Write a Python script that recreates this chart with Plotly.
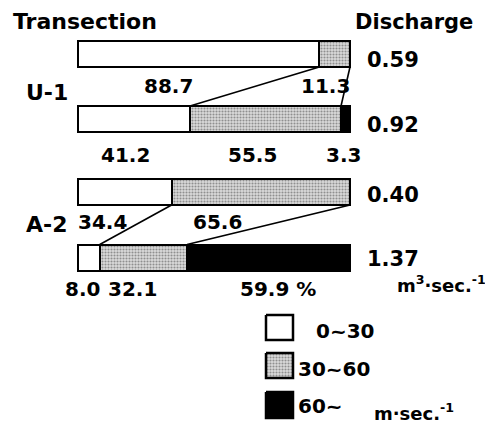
import plotly.graph_objects as go

# ---------------- data ----------------
transects = ["U-1", "A-2"]
classes = ["0~30", "30~60", "60~"]
# percentage of each velocity class, upper bar / lower bar per transection
u1_upper = [88.7, 11.3, 0.0]
u1_lower = [41.2, 55.5, 3.3]
a2_upper = [34.4, 65.6, 0.0]
a2_lower = [8.0, 32.1, 59.9]
discharge = [0.59, 0.92, 0.40, 1.37]
label_u1_upper = ["88.7", "11.3"]
label_u1_lower = ["41.2", "55.5", "3.3"]
label_a2_upper = ["34.4", "65.6"]
label_a2_lower = ["8.0", "32.1", "59.9 %"]

rows = [u1_upper, u1_lower, a2_upper, a2_lower]

# ---------------- layout constants ----------------
W, H = 493, 426
OFF = 8                         # default page margin of the html body
X0PX, X1PX = 78, 350            # pixel extent of 0..100 %
SC = (X1PX - X0PX) / 100.0
row_y = [54, 119, 192, 257.5]   # pixel centres of bars (y axis is in px, reversed)
BAR_H = 26
FONT = "DejaVu Sans"
fills = ["white", "#cccccc", "black"]
pat = dict(shape=".", fgcolor="#444444", bgcolor="#dadada", size=3, solidity=0.4)


def px2x(px):
    return (px - X0PX) / SC


fig = go.Figure()

for k in range(3):
    fig.add_trace(go.Bar(
        orientation="h",
        y=row_y,
        x=[r[k] for r in rows],
        width=BAR_H,
        marker=dict(color=fills[k], line=dict(color="black", width=2),
                    pattern=pat if k == 1 else None),
        showlegend=False, hoverinfo="skip",
    ))


def cum(r):
    out, s = [], 0
    for v in r:
        s += v
        out.append(s)
    return out


# connecting lines between class boundaries of paired bars
for up, lo, iu, il in [(u1_upper, u1_lower, 0, 1), (a2_upper, a2_lower, 2, 3)]:
    cu, cl = cum(up), cum(lo)
    for j in range(2):
        fig.add_trace(go.Scatter(
            x=[cu[j], cl[j]],
            y=[row_y[iu] + BAR_H / 2, row_y[il] - BAR_H / 2],
            mode="lines", line=dict(color="black", width=1.6),
            showlegend=False, hoverinfo="skip",
        ))

# legend boxes (scatter fill so the stipple pattern can be used)
leg_boxes = [(266, 293, 315, 340), (266, 293, 353, 378), (266, 293, 392, 418)]
for k, (a, b, t, btm) in enumerate(leg_boxes):
    fig.add_trace(go.Scatter(
        x=[px2x(a), px2x(b), px2x(b), px2x(a), px2x(a)],
        y=[t, t, btm, btm, t],
        mode="lines", fill="toself",
        fillcolor=fills[k] if k != 1 else None,
        fillpattern=pat if k == 1 else None,
        line=dict(color="black", width=2.5),
        showlegend=False, hoverinfo="skip",
    ))

ann = []


def text(s, px, py, size=19, anchor="center"):
    ann.append(dict(text="<b>" + s + "</b>", x=px2x(px), y=py, xref="x", yref="y",
                    showarrow=False, xanchor=anchor, yanchor="middle",
                    font=dict(family=FONT, size=size, color="black")))


text("Transection", 11, 21, 22, "left")
text("Discharge", 353, 22, 21, "left")
text(transects[0], 24, 92, 22, "left")
text(transects[1], 24, 224, 22, "left")

# segment labels
for s, px in zip(label_u1_upper, [168, 325]):
    text(s, px, 86, 20)
for s, px in zip(label_u1_lower, [125, 252, 343]):
    text(s, px, 155, 20)
for s, px in zip(label_a2_upper, [102, 217]):
    text(s, px, 222, 20)
for s, px in zip(label_a2_lower, [82, 132, 278]):
    text(s, px, 289, 20)

# discharge values
for d, py in zip(discharge, [60, 125, 195, 259]):
    text(f"{d:.2f}", 365, py, 21, "left")
text("m<sup>3</sup>·sec.<sup>-1</sup>", 395, 284, 18, "left")

# legend labels
text(classes[0], 314, 331, 20, "left")
text(classes[1], 296, 369, 20, "left")
text(classes[2], 296, 406, 20, "left")
text("m·sec.<sup>-1</sup>", 372, 412, 18, "left")

fig.update_layout(
    width=W - OFF, height=H - OFF, margin=dict(l=0, r=0, t=0, b=0),
    barmode="stack", bargap=0,
    plot_bgcolor="white", paper_bgcolor="white",
    xaxis=dict(range=[px2x(OFF), px2x(W)], visible=False, fixedrange=True),
    yaxis=dict(range=[H, OFF], visible=False, fixedrange=True),
    annotations=ann,
)

fig.write_html("out.html")
